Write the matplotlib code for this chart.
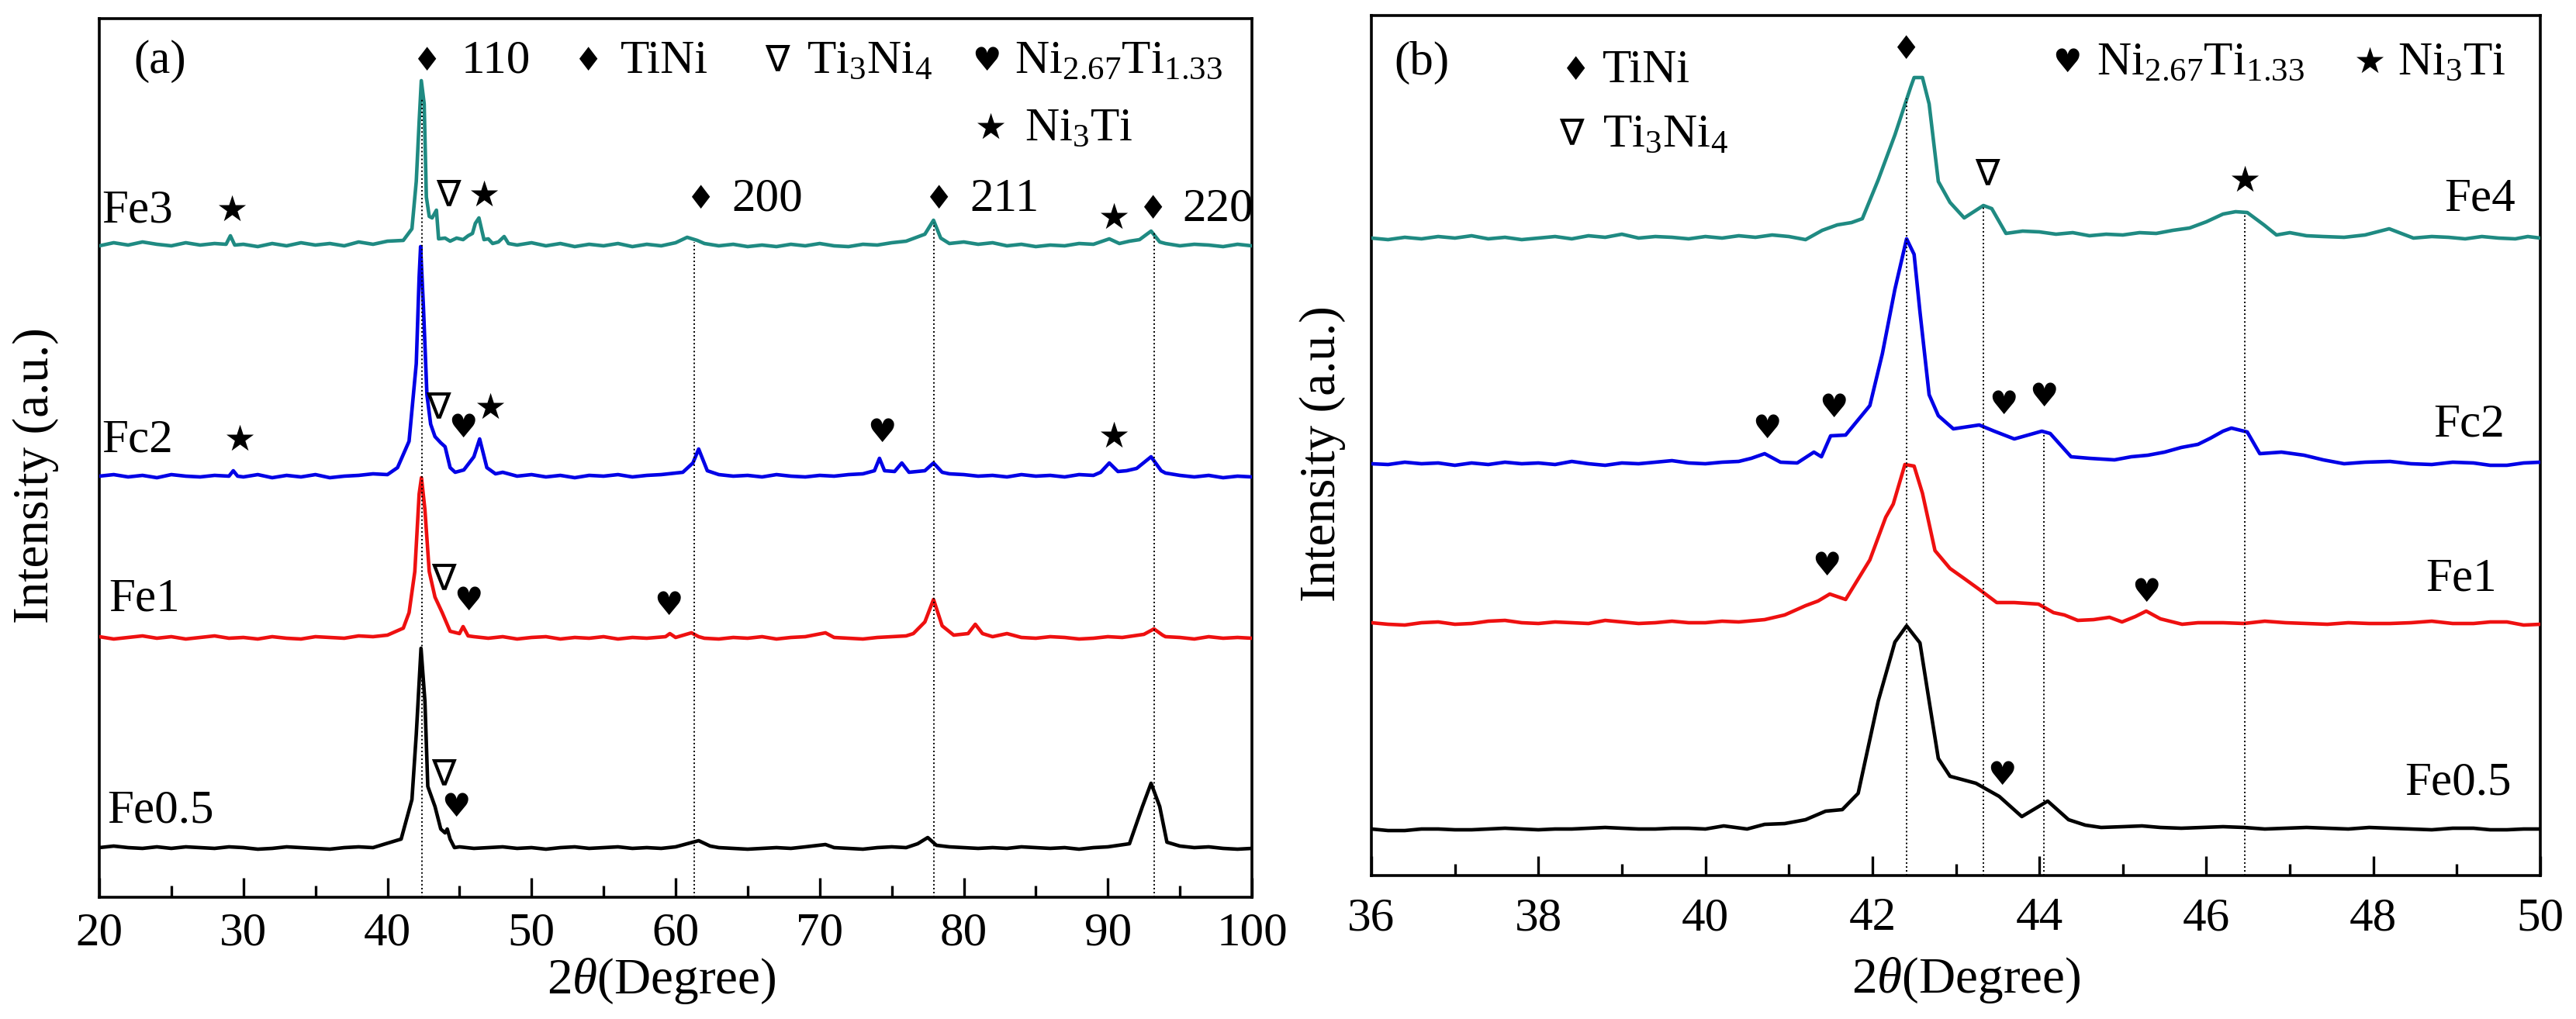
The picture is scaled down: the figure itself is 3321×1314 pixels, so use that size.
import matplotlib
matplotlib.use('Agg')
import matplotlib.pyplot as plt
from matplotlib.ticker import MultipleLocator

plt.rcParams['font.family'] = ['Liberation Serif', 'DejaVu Sans']
plt.rcParams['mathtext.fontset'] = 'custom'
plt.rcParams['mathtext.rm'] = 'Liberation Serif'
plt.rcParams['mathtext.it'] = 'Liberation Serif:italic'
plt.rcParams['mathtext.bf'] = 'Liberation Serif:bold'

# ---------------- Panel (a) data: 2theta 20-100 ----------------
a_x_fe3 = [20, 21, 22, 23, 24, 25, 26, 27, 28, 28.8, 29.1, 29.4, 30, 31, 32, 33, 34, 35, 36, 37, 38, 39, 40,
           41.1, 41.7, 42.0, 42.2, 42.35, 42.55, 42.7, 42.9, 43.1, 43.4, 43.55, 44.0, 44.35, 44.8, 45.25,
           45.6, 45.9, 46.1, 46.35, 46.7, 47.0, 47.3, 47.7, 48.1, 48.4, 49, 50, 51, 52, 53, 54, 55, 56, 57,
           58, 59, 60, 60.8, 61.5, 62, 63, 64, 65, 66, 67, 68, 69, 70, 71, 72, 73, 74, 75, 76, 77.3, 77.9,
           78.4, 79, 80, 81, 82, 83, 84, 85, 86, 87, 88, 89, 90.1, 90.8, 91.5, 92.2, 93.0, 93.6, 94, 95, 96,
           97, 98, 99, 100]
a_y_fe3 = [84.0, 84.4, 84.1, 84.5, 84.2, 84.0, 84.4, 84.1, 84.3, 84.2, 85.3, 84.1, 84.2, 83.9, 84.3, 84.0,
           84.4, 84.1, 84.3, 84.0, 84.5, 84.2, 84.6, 84.7, 86.2, 92.3, 100.0, 105.3, 102.3, 90.3, 87.8,
           87.6, 88.6, 84.9, 85.0, 84.6, 85.0, 84.8, 85.3, 85.6, 86.9, 87.6, 84.8, 84.9, 84.3, 84.5, 85.2,
           84.3, 84.1, 84.4, 84.0, 84.3, 83.9, 84.2, 84.0, 84.3, 83.9, 84.2, 84.0, 84.4, 85.1, 84.7, 84.3,
           84.0, 84.2, 83.9, 84.1, 83.9, 84.2, 84.0, 84.3, 84.0, 83.9, 84.2, 84.1, 84.4, 84.6, 85.5, 87.3,
           85.0, 84.3, 84.5, 84.2, 84.4, 84.0, 84.2, 83.9, 84.1, 84.0, 84.3, 84.2, 84.9, 84.3, 84.6, 84.8,
           85.9, 84.5, 84.3, 84.0, 84.2, 84.1, 83.9, 84.2, 84.0]

a_x_fc2 = [20, 21, 22, 23, 24, 25, 26, 27, 28, 29.0, 29.3, 29.6, 30, 31, 32, 33, 34, 35, 36, 37, 38, 39, 40,
           40.7, 41.5, 42.0, 42.2, 42.3, 42.5, 42.74, 43.0, 43.3, 43.7, 44.0, 44.35, 44.7, 45.3, 46.0, 46.4,
           46.9, 47.5, 48, 49, 50, 51, 52, 53, 54, 55, 56, 57, 58, 59, 60.5, 61.2, 61.6, 62.2, 63, 64, 65,
           66, 67, 68, 69, 70, 71, 72, 73, 73.8, 74.15, 74.5, 75.2, 75.7, 76.2, 77.3, 77.9, 78.5, 79, 80,
           81, 82, 83, 84, 85, 86, 87, 88, 89, 89.5, 90.1, 90.7, 91.3, 92.0, 93.0, 93.7, 94, 95, 96, 97, 98,
           99, 100]
a_y_fc2 = [54.3, 54.5, 54.2, 54.4, 54.1, 54.5, 54.3, 54.2, 54.4, 54.3, 55.0, 54.3, 54.2, 54.5, 54.1, 54.4,
           54.2, 54.5, 54.1, 54.3, 54.4, 54.6, 54.5, 55.4, 58.8, 68.8, 80.0, 83.9, 76.0, 64.8, 61.0, 59.4,
           58.6, 58.1, 55.4, 54.8, 55.1, 56.8, 59.1, 55.4, 54.6, 54.8, 54.3, 54.5, 54.2, 54.4, 54.1, 54.4,
           54.3, 54.5, 54.2, 54.4, 54.5, 54.8, 56.0, 57.8, 55.0, 54.5, 54.3, 54.4, 54.2, 54.5, 54.3, 54.2,
           54.4, 54.3, 54.5, 54.6, 55.0, 56.6, 55.0, 54.9, 56.0, 54.8, 55.0, 56.0, 54.8, 54.6, 54.5, 54.3,
           54.4, 54.2, 54.5, 54.3, 54.4, 54.2, 54.5, 54.4, 54.8, 56.0, 54.9, 55.0, 55.3, 56.8, 55.0, 54.7,
           54.4, 54.2, 54.4, 54.1, 54.3, 54.2]

a_x_fe1 = [20, 21, 22, 23, 24, 25, 26, 27, 28, 29, 30, 31, 32, 33, 34, 35, 36, 37, 38, 39, 40, 41.1, 41.5,
           41.9, 42.2, 42.36, 42.6, 42.9, 43.3, 43.8, 44.35, 45.0, 45.25, 45.6, 46, 47, 48, 49, 50, 51, 52,
           53, 54, 55, 56, 57, 58, 59.3, 59.6, 60.0, 61.1, 61.6, 62, 63, 64, 65, 66, 67, 68, 69, 70.4, 71,
           72, 73, 74, 75, 76, 76.5, 77.3, 77.9, 78.5, 79.3, 80.3, 80.8, 81.3, 82, 83, 84, 85, 86, 87, 88,
           89, 90, 91, 92.5, 93.2, 93.8, 94, 95, 96, 97, 98, 99, 100]
a_y_fe1 = [33.6, 33.3, 33.5, 33.7, 33.4, 33.6, 33.3, 33.5, 33.7, 33.4, 33.5, 33.3, 33.6, 33.4, 33.3, 33.6,
           33.5, 33.4, 33.7, 33.6, 33.8, 34.7, 36.7, 42.0, 52.0, 54.1, 50.0, 42.0, 38.7, 36.7, 34.3, 34.0,
           34.9, 33.7, 33.6, 33.4, 33.6, 33.3, 33.5, 33.6, 33.3, 33.5, 33.4, 33.6, 33.3, 33.5, 33.4, 33.6,
           34.0, 33.5, 34.1, 33.6, 33.4, 33.3, 33.5, 33.4, 33.6, 33.3, 33.5, 33.6, 34.1, 33.5, 33.4, 33.3,
           33.5, 33.6, 33.7, 34.0, 35.5, 38.4, 35.0, 33.8, 34.0, 35.2, 34.0, 33.6, 34.0, 33.5, 33.4, 33.6,
           33.5, 33.3, 33.4, 33.6, 33.5, 33.9, 34.6, 33.8, 33.6, 33.5, 33.3, 33.6, 33.4, 33.5, 33.4]

a_x_fe05 = [20, 21, 22, 23, 24, 25, 26, 27, 28, 29, 30, 31, 32, 33, 34, 35, 36, 37, 38, 39, 39.7, 40.95,
            41.7, 42.0, 42.33, 42.6, 42.8, 43.3, 43.7, 44.0, 44.15, 44.35, 44.65, 45, 46, 47, 48, 49, 50, 51,
            52, 53, 54, 55, 56, 57, 58, 59, 60, 61, 61.6, 62.4, 63, 64, 65, 66, 67, 68, 69, 70.4, 71, 72, 73,
            74, 75, 76, 76.8, 77.5, 78.1, 79, 80, 81, 82, 83, 84, 85, 86, 87, 88, 89, 90, 91.5, 92.4, 93.0,
            93.6, 94.1, 95, 96, 97, 98, 99, 100]
a_y_fe05 = [6.4, 6.6, 6.4, 6.3, 6.5, 6.3, 6.5, 6.4, 6.3, 6.5, 6.4, 6.2, 6.3, 6.5, 6.4, 6.3, 6.2, 6.4, 6.5,
            6.4, 6.8, 7.5, 12.6, 21.0, 32.1, 25.3, 14.3, 11.7, 8.8, 8.3, 8.8, 7.5, 6.4, 6.5, 6.3, 6.4, 6.5,
            6.3, 6.4, 6.2, 6.4, 6.5, 6.3, 6.4, 6.5, 6.3, 6.4, 6.3, 6.5, 7.0, 7.3, 6.6, 6.4, 6.3, 6.2, 6.3,
            6.4, 6.3, 6.5, 6.8, 6.4, 6.3, 6.2, 6.4, 6.5, 6.4, 6.9, 7.7, 6.7, 6.5, 6.4, 6.3, 6.4, 6.3, 6.5,
            6.4, 6.3, 6.4, 6.2, 6.4, 6.5, 6.9, 11.7, 14.7, 11.7, 7.1, 6.6, 6.4, 6.5, 6.3, 6.2, 6.3]

a_ref_lines = [42.42, 61.3, 77.95, 93.2]
a_ref_tops = [103.0, 84.5, 87.0, 85.8]

# ---------------- Panel (b) data: 2theta 36-50 ----------------
b_x_fe4 = [36.0, 36.2, 36.4, 36.6, 36.8, 37.0, 37.2, 37.4, 37.6, 37.8, 38.0, 38.2, 38.4, 38.6, 38.8, 39.0,
           39.2, 39.4, 39.6, 39.8, 40.0, 40.2, 40.4, 40.6, 40.8, 41.0, 41.2, 41.4, 41.58, 41.75, 41.88,
           42.07, 42.27, 42.46, 42.5, 42.6, 42.68, 42.79, 42.93, 43.1, 43.33, 43.43, 43.6, 43.8, 44.0, 44.2,
           44.4, 44.6, 44.8, 45.0, 45.2, 45.4, 45.6, 45.8, 46.0, 46.2, 46.35, 46.49, 46.69, 46.84, 47.0,
           47.2, 47.4, 47.65, 47.9, 48.19, 48.48, 48.7, 48.9, 49.1, 49.3, 49.5, 49.7, 49.85, 50.0]
b_y_fe4 = [82.2, 82.0, 82.3, 82.1, 82.4, 82.2, 82.5, 82.1, 82.3, 82.0, 82.2, 82.4, 82.1, 82.5, 82.3, 82.7,
           82.2, 82.4, 82.3, 82.1, 82.4, 82.2, 82.5, 82.3, 82.6, 82.4, 82.0, 83.2, 83.9, 84.2, 84.7, 89.7,
           95.5, 101.7, 102.9, 102.9, 99.5, 89.5, 86.8, 84.8, 86.4, 86.0, 82.8, 83.1, 83.0, 82.7, 82.9,
           82.5, 82.7, 82.6, 82.9, 82.8, 83.2, 83.5, 84.3, 85.3, 85.6, 85.5, 83.9, 82.6, 82.9, 82.5, 82.4,
           82.3, 82.6, 83.4, 82.2, 82.4, 82.3, 82.1, 82.4, 82.2, 82.1, 82.4, 82.2]

b_x_fc2 = [36.0, 36.2, 36.4, 36.6, 36.8, 37.0, 37.2, 37.4, 37.6, 37.8, 38.0, 38.2, 38.4, 38.6, 38.8, 39.0,
           39.2, 39.4, 39.6, 39.8, 40.0, 40.2, 40.4, 40.55, 40.71, 40.9, 41.1, 41.3, 41.39, 41.5, 41.68,
           41.97, 42.12, 42.27, 42.41, 42.5, 42.57, 42.68, 42.79, 42.97, 43.28, 43.46, 43.7, 44.03, 44.13,
           44.38, 44.6, 44.9, 45.1, 45.3, 45.5, 45.7, 45.9, 46.05, 46.2, 46.3, 46.49, 46.64, 46.9, 47.17,
           47.4, 47.65, 47.9, 48.2, 48.45, 48.7, 48.95, 49.2, 49.4, 49.6, 49.8, 50.0]
b_y_fc2 = [53.1, 53.0, 53.3, 53.1, 53.2, 52.9, 53.2, 53.0, 53.3, 53.1, 53.2, 53.0, 53.4, 53.1, 52.9, 53.2,
           53.1, 53.3, 53.5, 53.2, 53.1, 53.3, 53.4, 53.8, 54.4, 53.3, 53.2, 54.6, 54.0, 56.7, 56.8, 60.6,
           67.3, 75.6, 82.1, 80.1, 72.7, 62.0, 59.3, 57.6, 58.1, 57.3, 56.3, 57.3, 57.0, 54.0, 53.8, 53.6,
           54.0, 54.2, 54.6, 55.2, 55.6, 56.4, 57.3, 57.7, 57.2, 54.4, 54.6, 54.2, 53.6, 53.1, 53.3, 53.4,
           53.1, 53.0, 53.3, 53.2, 52.9, 52.9, 53.2, 53.3]

b_x_fe1 = [36.0, 36.2, 36.4, 36.6, 36.8, 37.0, 37.2, 37.4, 37.6, 37.8, 38.0, 38.2, 38.4, 38.6, 38.8, 39.0,
           39.2, 39.4, 39.6, 39.8, 40.0, 40.2, 40.4, 40.71, 40.95, 41.2, 41.35, 41.49, 41.68, 41.97, 42.16,
           42.25, 42.39, 42.5, 42.6, 42.75, 42.93, 43.1, 43.28, 43.49, 43.7, 43.99, 44.17, 44.3, 44.46,
           44.65, 44.84, 44.99, 45.15, 45.28, 45.45, 45.71, 45.9, 46.2, 46.45, 46.7, 46.95, 47.2, 47.45,
           47.7, 47.95, 48.2, 48.45, 48.7, 48.95, 49.2, 49.4, 49.6, 49.8, 50.0]
b_y_fe1 = [32.6, 32.4, 32.3, 32.6, 32.7, 32.4, 32.5, 32.8, 32.9, 32.6, 32.5, 32.7, 32.6, 32.5, 32.9, 32.7,
           32.5, 32.6, 32.8, 32.6, 32.6, 32.8, 32.7, 33.0, 33.6, 34.8, 35.4, 36.3, 35.6, 40.7, 46.2, 47.9,
           53.0, 52.8, 49.3, 41.9, 39.6, 38.3, 36.9, 35.2, 35.2, 35.0, 33.9, 33.6, 32.9, 33.0, 33.3, 32.7,
           33.4, 34.1, 33.1, 32.4, 32.6, 32.6, 32.5, 32.8, 32.6, 32.5, 32.4, 32.6, 32.5, 32.5, 32.6, 32.8,
           32.5, 32.5, 32.7, 32.7, 32.3, 32.4]

b_x_fe05 = [36.0, 36.2, 36.4, 36.6, 36.8, 37.0, 37.2, 37.4, 37.6, 37.8, 38.0, 38.2, 38.4, 38.6, 38.8, 39.0,
            39.2, 39.4, 39.6, 39.8, 40.0, 40.22, 40.5, 40.71, 40.95, 41.2, 41.44, 41.64, 41.83, 42.07, 42.27,
            42.41, 42.57, 42.68, 42.79, 42.93, 43.24, 43.52, 43.79, 44.1, 44.35, 44.55, 44.74, 45.0, 45.23,
            45.45, 45.7, 45.95, 46.2, 46.45, 46.7, 46.95, 47.2, 47.45, 47.7, 47.95, 48.2, 48.45, 48.7, 48.95,
            49.2, 49.4, 49.6, 49.8, 50.0]
b_y_fe05 = [6.0, 5.8, 5.8, 6.0, 6.0, 5.9, 5.9, 6.0, 6.1, 6.0, 5.9, 6.0, 6.0, 6.1, 6.2, 6.1, 6.0, 6.0, 6.1,
            6.1, 6.0, 6.4, 6.0, 6.6, 6.7, 7.2, 8.3, 8.5, 10.6, 22.5, 30.1, 32.2, 30.0, 22.5, 15.1, 12.8,
            11.9, 10.2, 7.6, 9.6, 7.2, 6.5, 6.2, 6.3, 6.4, 6.2, 6.1, 6.2, 6.3, 6.2, 6.0, 6.1, 6.2, 6.1, 6.0,
            6.2, 6.1, 6.0, 5.9, 6.1, 6.1, 5.9, 5.9, 6.0, 6.0]

b_ref_lines = [42.41, 43.33, 44.05, 46.46]
b_ref_tops = [100.2, 86.2, 57.0, 85.3]

c_teal = '#1f8a82'
c_blue = '#0000e6'
c_red = '#ee1010'
c_black = '#000000'

W, H = 3321, 1314
fig = plt.figure(figsize=(W / 100, H / 100), dpi=100)
axa = fig.add_axes([128 / W, 1 - 1157 / H, 1486 / W, 1133 / H])
axb = fig.add_axes([1768 / W, 1 - 1129 / H, 1507 / W, 1109 / H])

LW = 3.3
TXT = 44
SYM = 30
SIZES = {'\u2666': 30, '\u2665': 30, '\u2605': 33, '\u2207': 34}


def sym(ax, x, y, s):
    ax.text(x, y, s, family='DejaVu Sans', fontsize=SIZES.get(s, SYM), ha='center', va='center', zorder=6)


def txt(ax, x, y, s, ha='left', size=TXT):
    ax.text(x, y, s, fontsize=size, ha=ha, va='center', zorder=6)


def style(ax, xmin, xmax, ymax, major, minor, pad):
    ax.set_xlim(xmin, xmax)
    ax.set_ylim(0, ymax)
    ax.xaxis.set_major_locator(MultipleLocator(major))
    ax.xaxis.set_minor_locator(MultipleLocator(minor))
    ax.set_yticks([])
    ax.tick_params(axis='x', which='major', direction='in', length=18, width=2.4,
                   labelsize=44, pad=pad, top=False)
    ax.tick_params(axis='x', which='minor', direction='in', length=11, width=2.4, top=False)
    for sp in ax.spines.values():
        sp.set_linewidth(2.6)


# ---- panel (a) ----
for xs, ys, c in [(a_x_fe05, a_y_fe05, c_black), (a_x_fe1, a_y_fe1, c_red),
                  (a_x_fc2, a_y_fc2, c_blue), (a_x_fe3, a_y_fe3, c_teal)]:
    axa.plot(xs, ys, color=c, lw=LW, zorder=3)
for xv, top in zip(a_ref_lines, a_ref_tops):
    axa.plot([xv, xv], [0, top], color='black', lw=1.4, ls=(0, (1, 1.6)), zorder=4)
style(axa, 20, 100, 113.3, 10, 5, 14)

txt(axa, 22.4, 107.8, '(a)')
sym(axa, 42.75, 107.8, '\u2666')
txt(axa, 45.1, 107.8, '110')
sym(axa, 53.94, 107.8, '\u2666')
txt(axa, 56.2, 107.8, 'TiNi')
sym(axa, 67.04, 107.8, '\u2207')
txt(axa, 69.1, 107.8, 'Ti$_3$Ni$_4$')
sym(axa, 81.58, 107.8, '\u2665')
txt(axa, 83.5, 107.8, 'Ni$_{2.67}$Ti$_{1.33}$')
sym(axa, 81.85, 99.1, '\u2605')
txt(axa, 84.2, 99.1, 'Ni$_3$Ti')
sym(axa, 61.76, 90.0, '\u2666')
txt(axa, 63.9, 90.0, '200')
sym(axa, 78.3, 90.0, '\u2666')
txt(axa, 80.4, 90.0, '211')
sym(axa, 90.37, 87.5, '\u2605')
sym(axa, 93.17, 88.7, '\u2666')
txt(axa, 95.2, 88.7, '220')

txt(axa, 20.2, 88.5, 'Fe3')
sym(axa, 29.2, 88.5, '\u2605')
sym(axa, 44.2, 90.4, '\u2207')
sym(axa, 46.7, 90.4, '\u2605')

txt(axa, 20.2, 58.9, 'Fc2')
sym(axa, 29.7, 58.9, '\u2605')
sym(axa, 43.55, 63.0, '\u2207')
sym(axa, 45.25, 60.5, '\u2665')
sym(axa, 47.1, 63.0, '\u2605')
sym(axa, 74.3, 59.9, '\u2665')
sym(axa, 90.4, 59.3, '\u2605')

txt(axa, 20.65, 38.4, 'Fe1')
sym(axa, 43.9, 40.9, '\u2207')
sym(axa, 45.6, 38.2, '\u2665')
sym(axa, 59.5, 37.6, '\u2665')

txt(axa, 20.55, 11.1, 'Fe0.5')
sym(axa, 43.9, 15.7, '\u2207')
sym(axa, 44.75, 11.6, '\u2665')

# ---- panel (b) ----
for xs, ys, c in [(b_x_fe05, b_y_fe05, c_black), (b_x_fe1, b_y_fe1, c_red),
                  (b_x_fc2, b_y_fc2, c_blue), (b_x_fe4, b_y_fe4, c_teal)]:
    axb.plot(xs, ys, color=c, lw=LW, zorder=3)
for xv, top in zip(b_ref_lines, b_ref_tops):
    axb.plot([xv, xv], [0, top], color='black', lw=1.4, ls=(0, (1, 1.6)), zorder=4)
style(axb, 36, 50, 110.9, 2, 1, 20)

txt(axb, 36.27, 104.8, '(b)')
sym(axb, 38.45, 103.8, '\u2666')
txt(axb, 38.77, 103.8, 'TiNi')
sym(axb, 38.4, 95.5, '\u2207')
txt(axb, 38.77, 95.5, 'Ti$_3$Ni$_4$')
sym(axb, 42.41, 106.5, '\u2666')
sym(axb, 44.33, 104.8, '\u2665')
txt(axb, 44.69, 104.8, 'Ni$_{2.67}$Ti$_{1.33}$')
sym(axb, 47.95, 104.8, '\u2605')
txt(axb, 48.29, 104.8, 'Ni$_3$Ti')

sym(axb, 43.38, 90.3, '\u2207')
sym(axb, 46.46, 89.5, '\u2605')
txt(axb, 49.7, 87.2, 'Fe4', ha='right')

sym(axb, 40.74, 57.6, '\u2665')
sym(axb, 41.54, 60.3, '\u2665')
sym(axb, 43.57, 60.7, '\u2665')
sym(axb, 44.05, 61.7, '\u2665')
txt(axb, 49.57, 58.1, 'Fc2', ha='right')

sym(axb, 41.45, 39.9, '\u2665')
sym(axb, 45.28, 36.5, '\u2665')
txt(axb, 49.48, 38.2, 'Fe1', ha='right')

sym(axb, 43.55, 12.9, '\u2665')
txt(axb, 49.65, 11.9, 'Fe0.5', ha='right')

# ---- axis labels ----
fig.text(46 / W, 1 - 613 / H, 'Intensity (a.u.)', rotation=90, ha='center', va='center', fontsize=47)
fig.text(1705 / W, 1 - 585 / H, 'Intensity (a.u.)', rotation=90, ha='center', va='center', fontsize=47)
fig.text(853 / W, 1 - 1265 / H, '2$\\theta$(Degree)', ha='center', va='center', fontsize=47)
fig.text(2535 / W, 1 - 1264 / H, '2$\\theta$(Degree)', ha='center', va='center', fontsize=47)

fig.savefig('out.png', dpi=100)
